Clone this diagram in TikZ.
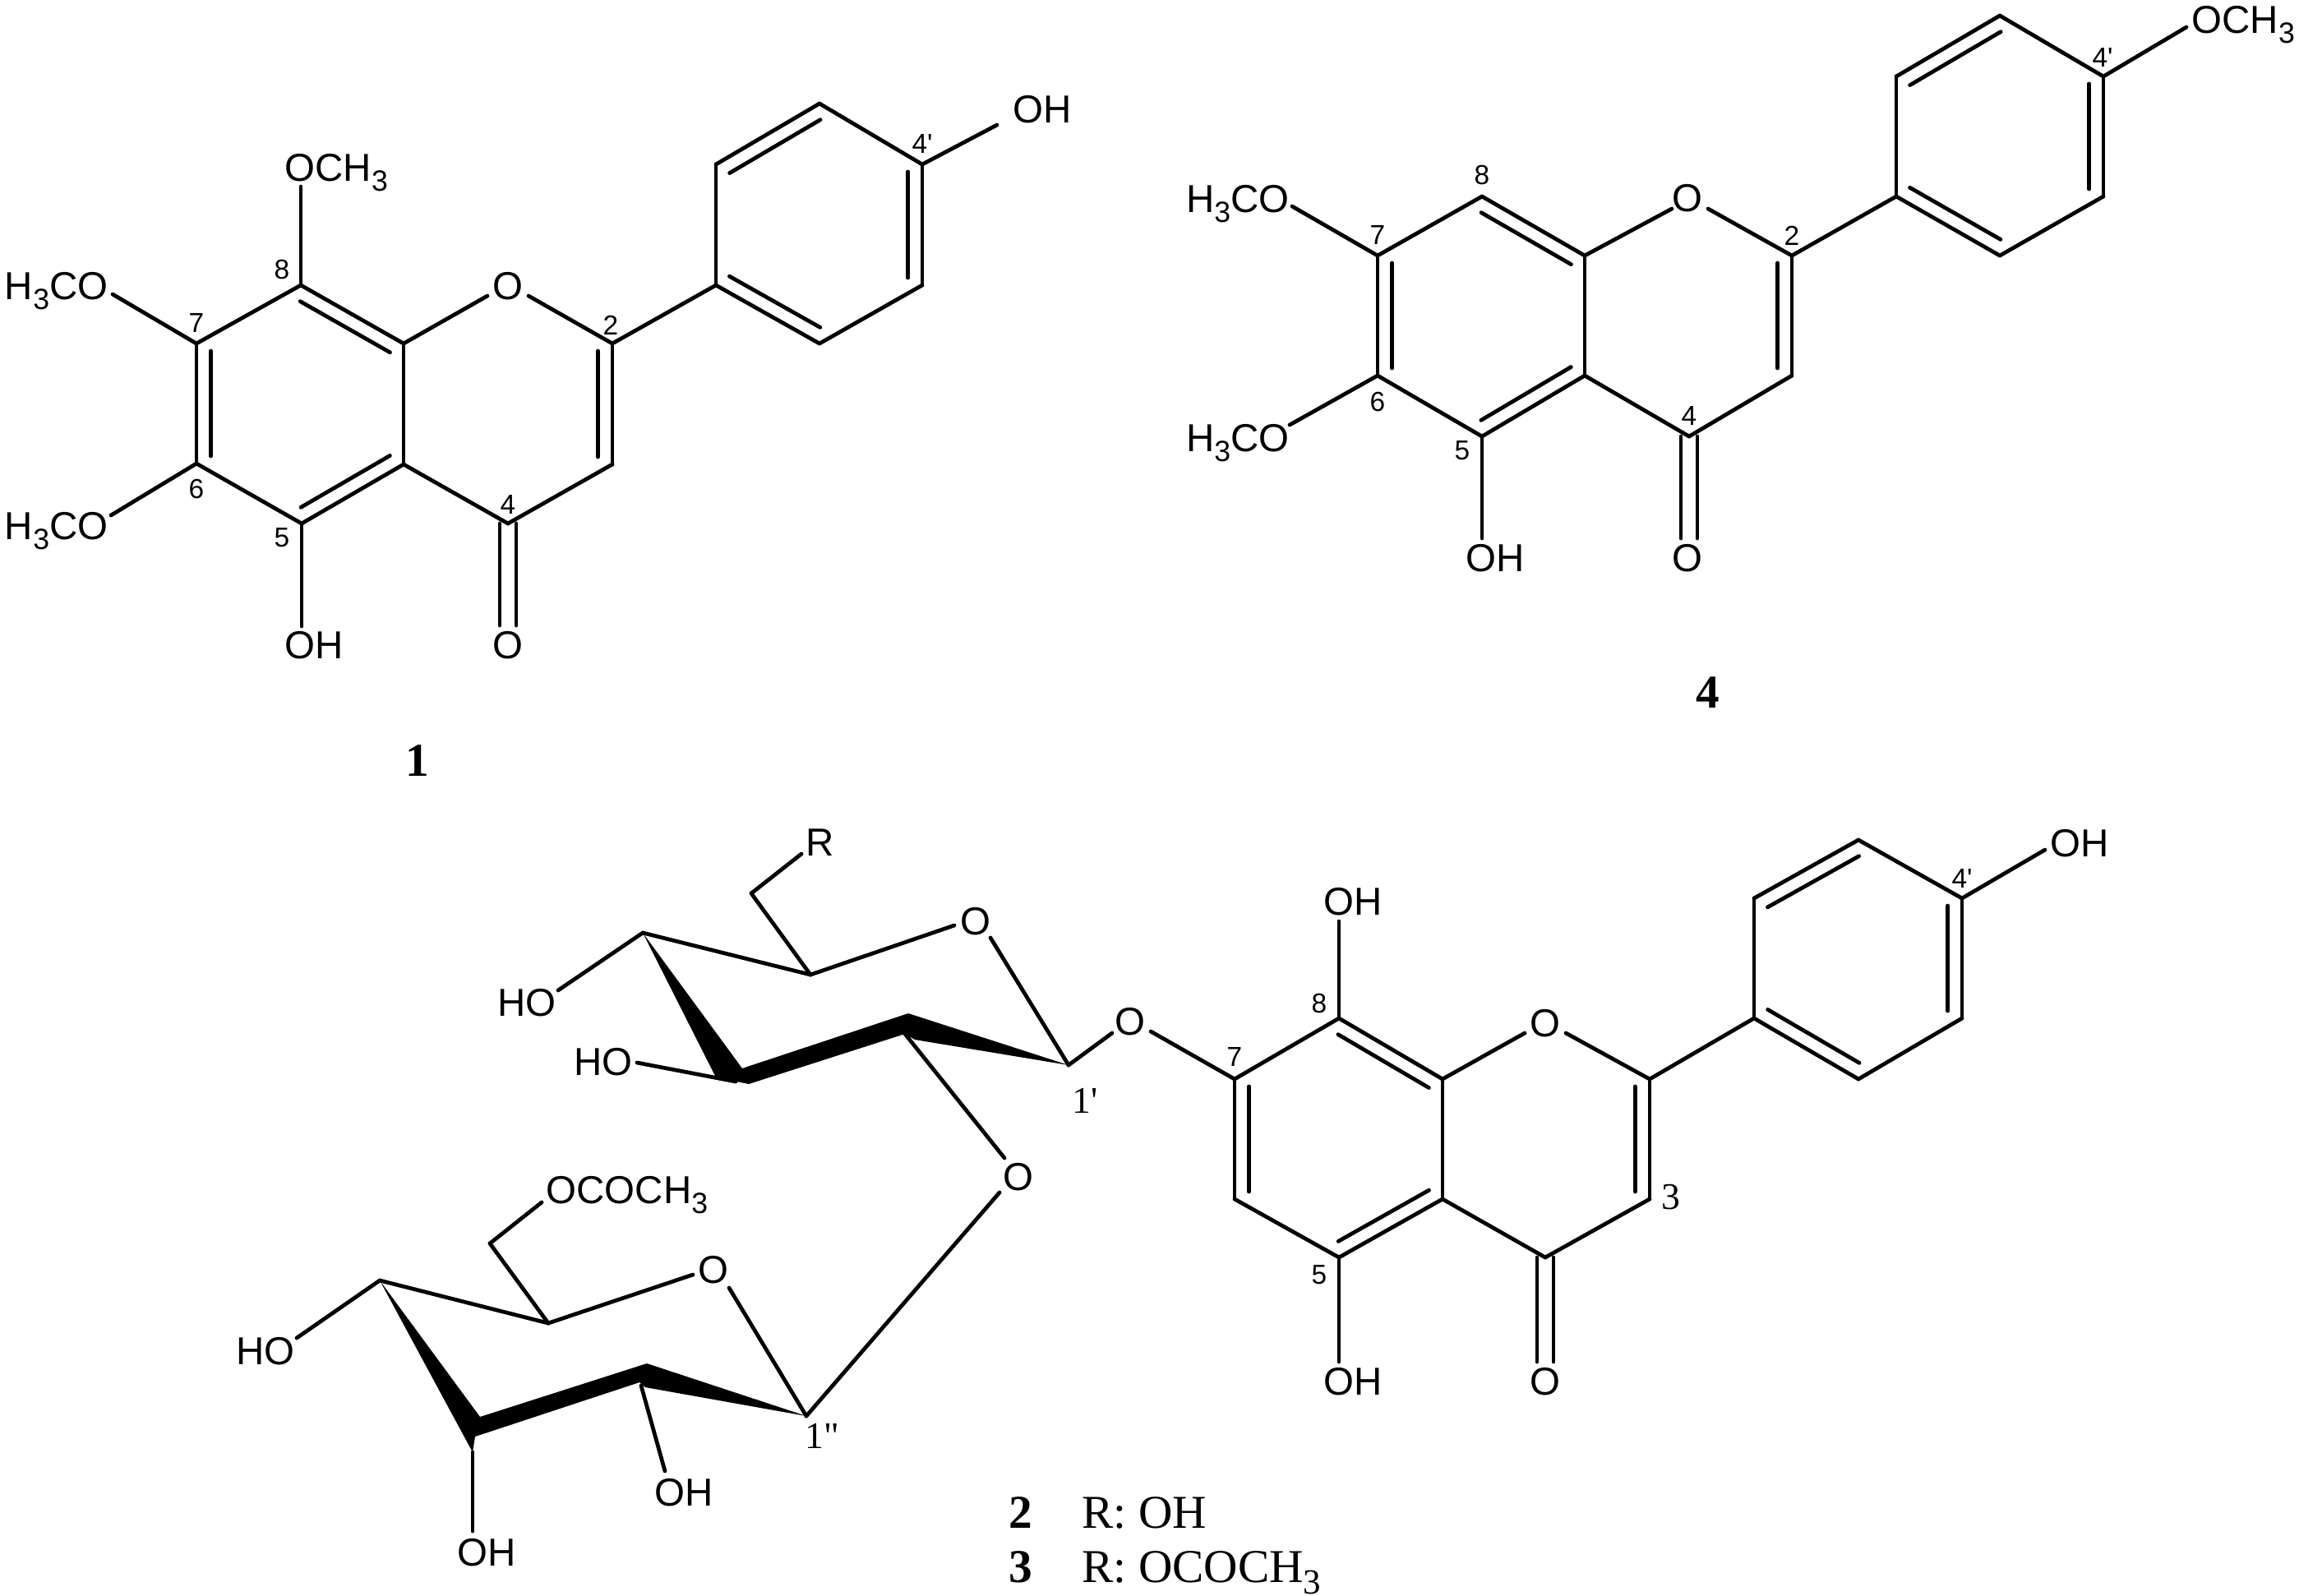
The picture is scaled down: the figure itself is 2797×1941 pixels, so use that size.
\documentclass[tikz,border=0pt]{standalone}
\usepackage{fontspec}
\usetikzlibrary{calc}
\newfontfamily\sansfam{Liberation Sans}
\newfontfamily\seriffam{Liberation Serif}
\newcommand{\subs}[1]{\raisebox{-.25em}{\scalebox{.75}{#1}}}
\tikzset{
  bond/.style={line width=1.35pt,line cap=round,line join=round,black},
  atomlab/.style={inner sep=0pt,text height=.35cm,text depth=0pt,font=\sansfam\fontsize{13.5}{15}\selectfont},
  numlab/.style={inner sep=0pt,text height=.24cm,text depth=0pt,font=\sansfam\fontsize{9.5}{10}\selectfont},
  primelab/.style={inner sep=0pt,text height=.31cm,text depth=0pt,font=\seriffam\fontsize{13}{14}\selectfont},
  titlelab/.style={inner sep=0pt,text height=.38cm,text depth=0pt,font=\seriffam\bfseries\fontsize{16.3}{18}\selectfont},
  legendlab/.style={inner sep=0pt,text height=.38cm,text depth=0pt,font=\seriffam\fontsize{16.3}{18}\selectfont},
}
% single bond between two named points
\newcommand{\sbond}[2]{\draw[bond] (#1) -- (#2);}
% ring double bond: inner line on the left of the canvas travel a->b
\newcommand{\dblbond}[2]{%
  \draw[bond] (#1) -- (#2);
  \draw[bond] ($($(#1)!.9mm!(#2)$)!1.75mm!90:(#2)$) -- ($($(#2)!.9mm!(#1)$)!1.75mm!-90:(#1)$);}
% symmetric carbonyl double bond
\newcommand{\cobond}[2]{%
  \draw[bond] ($(#1)!1mm!90:(#2)$) -- ($(#2)!1mm!-90:(#1)$);
  \draw[bond] ($(#1)!1mm!-90:(#2)$) -- ($(#2)!1mm!90:(#1)$);}
\begin{document}
\begin{tikzpicture}[x=0.01cm,y=-0.01cm]
\useasboundingbox (0,0) rectangle (2797,1941);
\fill[white] (0,0) rectangle (2797,1941);
% ===================== compound 1
\foreach \n/\x/\y in {aC8/366/347,aC7/239/418,aC6/239/564,aC5/367/637,aC4a/491/565,aC8a/491/418,aOe/593/360,aOw/643/360,aC2/745/418,aC3/745/565,aC4/618/637,aCOe/618/761,
 aB1/871/347,aB2/871/200,aB3/997/126,aB4/1122/200,aB5/1122/347,aB6/997/418,
 aOMe8/366/227,aOMe7/137/358,aOMe6/135/627,aOH5/367/762,aOH4/1213/152}
  \coordinate (\n) at (\x,\y);
\node[atomlab] (aO1) at (618,347) {O};
\node[atomlab,anchor=west] (aTOMe8) at (346,203) {OCH\subs{3}};
\node[atomlab,anchor=east] (aTOMe7) at (132,347) {H\subs{3}CO};
\node[atomlab,anchor=east] (aTOMe6) at (132,639) {H\subs{3}CO};
\node[atomlab,anchor=west] (aTOH5) at (346,784) {OH};
\node[atomlab] (aTCO) at (618,784) {O};
\node[atomlab,anchor=west] (aTOH4) at (1232,132) {OH};
\dblbond{aC8a}{aC8}\dblbond{aC7}{aC6}\dblbond{aC5}{aC4a}\dblbond{aC3}{aC2}
\dblbond{aB3}{aB2}\dblbond{aB1}{aB6}\dblbond{aB5}{aB4}
\sbond{aC8}{aC7}\sbond{aC6}{aC5}\sbond{aC4a}{aC8a}\sbond{aC8a}{aOe}\sbond{aOw}{aC2}\sbond{aC4a}{aC4}\sbond{aC4}{aC3}
\sbond{aC2}{aB1}\sbond{aB1}{aB2}\sbond{aB3}{aB4}\sbond{aB5}{aB6}
\cobond{aC4}{aCOe}
\sbond{aC8}{aOMe8}\sbond{aC7}{aOMe7}\sbond{aC6}{aOMe6}\sbond{aC5}{aOH5}\sbond{aB4}{aOH4}
\node[numlab] (an8) at (343,327) {8};
\node[numlab] (an7) at (239,392) {7};
\node[numlab] (an6) at (239,594) {6};
\node[numlab] (an5) at (343,653) {5};
\node[numlab] (an4) at (618,613) {4};
\node[numlab] (an2) at (743,395) {2};
\node[numlab] (an4p) at (1122,174) {4'};
\node[titlelab] (atitle) at (508,925) {1};
% ===================== compound 4
\foreach \n/\x/\y in {dC8/1803/239,dC7/1676/311,dC6/1676/457,dC5/1803/531,dC4a/1928/457,dC8a/1928/311,dOe/2034/254,dOw/2078/254,dC2/2180/311,dC3/2180/457,dC4/2055/531,dCOe/2055/655,
 dB1/2307/239,dB2/2307/93,dB3/2433/19,dB4/2559/93,dB5/2559/239,dB6/2433/311,
 dOMe7/1572/251,dOMe6/1569/517,dOH5/1803/655,dOMe4/2660/33}
  \coordinate (\n) at (\x,\y);
\node[atomlab] (dO1) at (2053,240) {O};
\node[atomlab,anchor=east] (dTOMe7) at (1569,241) {H\subs{3}CO};
\node[atomlab,anchor=east] (dTOMe6) at (1569,532) {H\subs{3}CO};
\node[atomlab,anchor=west] (dTOH5) at (1783,678) {OH};
\node[atomlab] (dTCO) at (2053,678) {O};
\node[atomlab,anchor=west] (dTOMe4) at (2666,23) {OCH\subs{3}};
\dblbond{dC8a}{dC8}\dblbond{dC7}{dC6}\dblbond{dC5}{dC4a}\dblbond{dC3}{dC2}
\dblbond{dB3}{dB2}\dblbond{dB1}{dB6}\dblbond{dB5}{dB4}
\sbond{dC8}{dC7}\sbond{dC6}{dC5}\sbond{dC4a}{dC8a}\sbond{dC8a}{dOe}\sbond{dOw}{dC2}\sbond{dC4a}{dC4}\sbond{dC4}{dC3}
\sbond{dC2}{dB1}\sbond{dB1}{dB2}\sbond{dB3}{dB4}\sbond{dB5}{dB6}
\cobond{dC4}{dCOe}
\sbond{dC7}{dOMe7}\sbond{dC6}{dOMe6}\sbond{dC5}{dOH5}\sbond{dB4}{dOMe4}
\node[numlab] (dn8) at (1803,212) {8};
\node[numlab] (dn7) at (1676,285) {7};
\node[numlab] (dn6) at (1676,488) {6};
\node[numlab] (dn5) at (1779,547) {5};
\node[numlab] (dn4) at (2055,505) {4};
\node[numlab] (dn2) at (2180,286) {2};
\node[numlab] (dn4p) at (2558,69) {4'};
\node[titlelab] (dtitle) at (2078,842) {4};
% ===================== compound 2/3: flavone
\foreach \n/\x/\y in {bC8/1629/1239,bC7/1502/1313,bC6/1502/1459,bC5/1629/1530,bC4a/1755/1459,bC8a/1755/1313,bOe/1855/1257,bOw/1905/1257,bC2/2007/1313,bC3/2007/1459,bC4/1880/1530,bCOe/1880/1657,
 bB1/2134/1239,bB2/2134/1093,bB3/2261/1022,bB4/2387/1093,bB5/2387/1239,bB6/2261/1313,
 bOH5/1629/1657,bOH8/1629/1121,bOH4/2488/1034,bOLe/1400/1255}
  \coordinate (\n) at (\x,\y);
\node[atomlab] (bO1) at (1880,1244) {O};
\node[atomlab,anchor=west] (bTOH8) at (1610,1096) {OH};
\node[atomlab,anchor=west] (bTOH5) at (1610,1680) {OH};
\node[atomlab] (bTCO) at (1880,1680) {O};
\node[atomlab,anchor=west] (bTOH4) at (2494,1025) {OH};
\dblbond{bC8a}{bC8}\dblbond{bC7}{bC6}\dblbond{bC5}{bC4a}\dblbond{bC3}{bC2}
\dblbond{bB3}{bB2}\dblbond{bB1}{bB6}\dblbond{bB5}{bB4}
\sbond{bC8}{bC7}\sbond{bC6}{bC5}\sbond{bC4a}{bC8a}\sbond{bC8a}{bOe}\sbond{bOw}{bC2}\sbond{bC4a}{bC4}\sbond{bC4}{bC3}
\sbond{bC2}{bB1}\sbond{bB1}{bB2}\sbond{bB3}{bB4}\sbond{bB5}{bB6}
\cobond{bC4}{bCOe}
\sbond{bC5}{bOH5}\sbond{bC8}{bOH8}\sbond{bB4}{bOH4}\sbond{bC7}{bOLe}
\node[numlab] (bn8) at (1605,1220) {8};
\node[numlab] (bn7) at (1502,1285) {7};
\node[numlab] (bn5) at (1605,1550) {5};
\node[primelab] (bn3) at (2033,1456) {3};
\node[numlab] (bn4p) at (2387,1068) {4'};
% ===================== first sugar
\foreach \n/\x/\y in {sCH/914/1087,sRe/975/1039,sC5/986/1186,sC4/782/1135,sOa/1161/1126,sOb/1205/1141,sC1/1300/1296,
 sW1/903/1300,sW2/1105/1233,sW3/1101/1258,sW6/1113/1265,sW4/911/1319,sW5/871/1311,
 sHO1/679/1205,sHO2/775/1293,sHO3/895/1316,sLk/1353/1257,sGa/1222/1409,sGb/1216/1451}
  \coordinate (\n) at (\x,\y);
\node[atomlab] (sR) at (998,1024) {R};
\node[atomlab] (sO) at (1187,1120) {O};
\node[atomlab] (sTHO1) at (641,1219) {HO};
\node[atomlab] (sTHO2) at (734,1291) {HO};
\node[atomlab] (sOL) at (1375,1242) {O};
\node[atomlab] (sOG) at (1239,1431) {O};
\fill[black] (sC4) -- (sW1) -- (sW2) -- (sC1) -- (sW6) -- (sW3) -- (sW4) -- (sW5) -- cycle;
\sbond{sCH}{sRe}\sbond{sCH}{sC5}\sbond{sC5}{sC4}\sbond{sC5}{sOa}\sbond{sOb}{sC1}
\sbond{sC4}{sHO1}\sbond{sHO3}{sHO2}\sbond{sC1}{sLk}\sbond{sW3}{sGa}
\node[primelab] (sn1) at (1320,1339) {1'};
% ===================== second sugar
\foreach \n/\x/\y in {tAc/659/1463,tCH/596/1513,tC5/667/1610,tC4/462/1558,tOa/843/1551,tOb/887/1567,tC1/981/1723,
 tW1/584/1724,tW2/787/1659,tW3/778/1682,tW6/785/1688,tW4/578/1748,tW5/575/1767,
 tHO/361/1628,tOHb/575/1863,tOHr/809/1790,tOHt/780/1686}
  \coordinate (\n) at (\x,\y);
\node[atomlab,anchor=west] (tTAc) at (664,1447) {OCOCH\subs{3}};
\node[atomlab] (tO) at (868,1544) {O};
\node[atomlab] (tTHO) at (323,1643) {HO};
\node[atomlab] (tTOHb) at (592,1888) {OH};
\node[atomlab] (tTOHr) at (832,1815) {OH};
\fill[black] (tC4) -- (tW1) -- (tW2) -- (tC1) -- (tW6) -- (tW3) -- (tW4) -- (tW5) -- cycle;
\sbond{tAc}{tCH}\sbond{tCH}{tC5}\sbond{tC5}{tC4}\sbond{tC5}{tOa}\sbond{tOb}{tC1}
\sbond{tC4}{tHO}\sbond{tW5}{tOHb}\sbond{tOHt}{tOHr}\sbond{sGb}{tC1}
\node[primelab] (tn1) at (1000,1747) {1"};
% ===================== legend
\node[titlelab] (l2) at (1242,1840) {2};
\node[legendlab,anchor=west] (l2t) at (1316,1840) {R: OH};
\node[titlelab] (l3) at (1242,1906) {3};
\node[legendlab,anchor=west] (l3t) at (1316,1906) {R: OCOCH\subs{3}};
\end{tikzpicture}
\end{document}
